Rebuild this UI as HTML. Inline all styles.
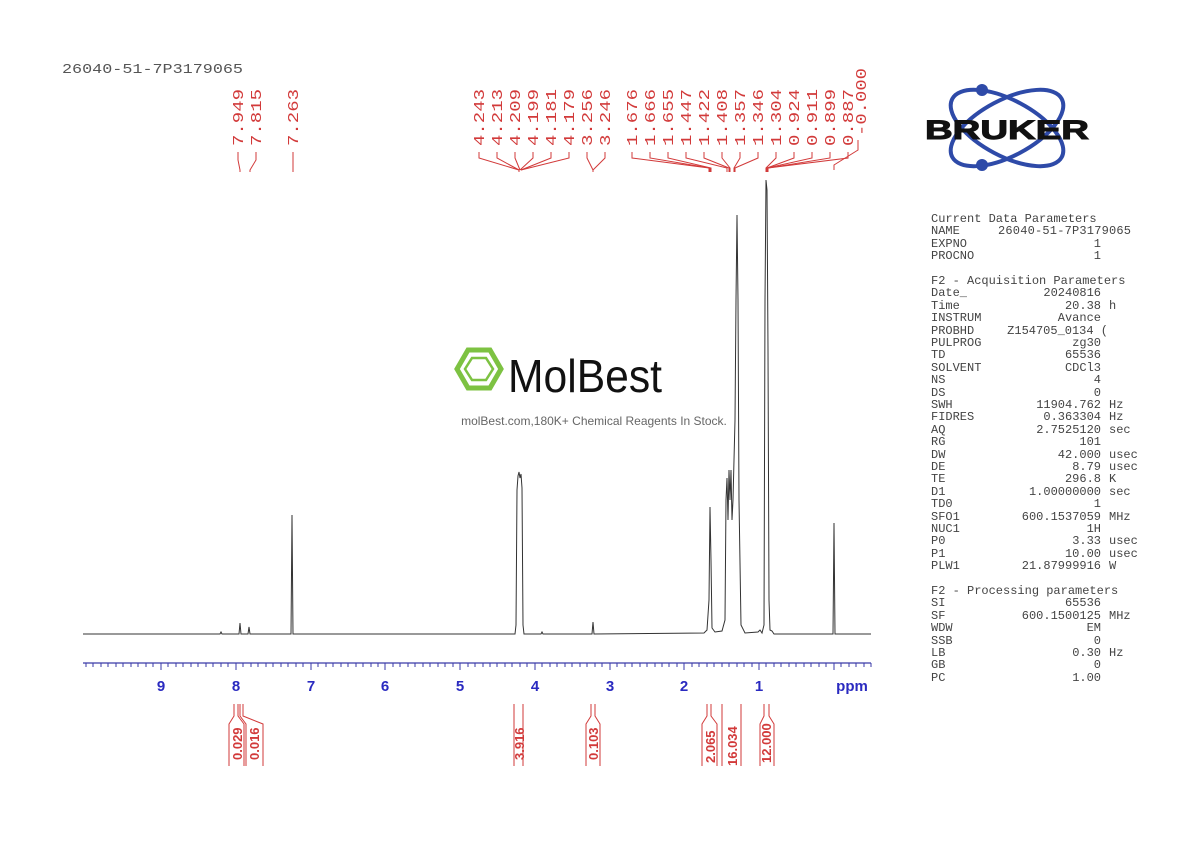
<!DOCTYPE html>
<html><head><meta charset="utf-8"><style>
body{margin:0;background:#fff}
svg{display:block}
.m{font-family:"Liberation Mono",monospace}
</style></head><body>
<svg width="1190" height="842" viewBox="0 0 1190 842" xmlns="http://www.w3.org/2000/svg">
<rect width="1190" height="842" fill="#fff"/>
<text x="62" y="73" class="m" font-size="14" fill="#555" textLength="181" lengthAdjust="spacingAndGlyphs">26040-51-7P3179065</text>

<!-- peak labels -->
<g class="m" font-size="15" fill="#d23a3a" lengthAdjust="spacingAndGlyphs">
<text transform="translate(243,146) rotate(-90)" textLength="57" lengthAdjust="spacingAndGlyphs">7.949</text>
<text transform="translate(261,146) rotate(-90)" textLength="57" lengthAdjust="spacingAndGlyphs">7.815</text>
<text transform="translate(298,146) rotate(-90)" textLength="57" lengthAdjust="spacingAndGlyphs">7.263</text>
<text transform="translate(484,146) rotate(-90)" textLength="57" lengthAdjust="spacingAndGlyphs">4.243</text>
<text transform="translate(502,146) rotate(-90)" textLength="57" lengthAdjust="spacingAndGlyphs">4.213</text>
<text transform="translate(520,146) rotate(-90)" textLength="57" lengthAdjust="spacingAndGlyphs">4.209</text>
<text transform="translate(538,146) rotate(-90)" textLength="57" lengthAdjust="spacingAndGlyphs">4.199</text>
<text transform="translate(556,146) rotate(-90)" textLength="57" lengthAdjust="spacingAndGlyphs">4.181</text>
<text transform="translate(574,146) rotate(-90)" textLength="57" lengthAdjust="spacingAndGlyphs">4.179</text>
<text transform="translate(592,146) rotate(-90)" textLength="57" lengthAdjust="spacingAndGlyphs">3.256</text>
<text transform="translate(610,146) rotate(-90)" textLength="57" lengthAdjust="spacingAndGlyphs">3.246</text>
<text transform="translate(637,146) rotate(-90)" textLength="57" lengthAdjust="spacingAndGlyphs">1.676</text>
<text transform="translate(655,146) rotate(-90)" textLength="57" lengthAdjust="spacingAndGlyphs">1.666</text>
<text transform="translate(673,146) rotate(-90)" textLength="57" lengthAdjust="spacingAndGlyphs">1.655</text>
<text transform="translate(691,146) rotate(-90)" textLength="57" lengthAdjust="spacingAndGlyphs">1.447</text>
<text transform="translate(709,146) rotate(-90)" textLength="57" lengthAdjust="spacingAndGlyphs">1.422</text>
<text transform="translate(727,146) rotate(-90)" textLength="57" lengthAdjust="spacingAndGlyphs">1.408</text>
<text transform="translate(745,146) rotate(-90)" textLength="57" lengthAdjust="spacingAndGlyphs">1.357</text>
<text transform="translate(763,146) rotate(-90)" textLength="57" lengthAdjust="spacingAndGlyphs">1.346</text>
<text transform="translate(781,146) rotate(-90)" textLength="57" lengthAdjust="spacingAndGlyphs">1.304</text>
<text transform="translate(799,146) rotate(-90)" textLength="57" lengthAdjust="spacingAndGlyphs">0.924</text>
<text transform="translate(817,146) rotate(-90)" textLength="57" lengthAdjust="spacingAndGlyphs">0.911</text>
<text transform="translate(835,146) rotate(-90)" textLength="57" lengthAdjust="spacingAndGlyphs">0.899</text>
<text transform="translate(853,146) rotate(-90)" textLength="57" lengthAdjust="spacingAndGlyphs">0.887</text>
<text transform="translate(866,136) rotate(-90)" textLength="68" lengthAdjust="spacingAndGlyphs">-0.000</text>
</g>
<g stroke="#d23a3a" stroke-width="1" fill="none">
<path d="M238,152 L238,160 L240,170 L240,172"/>
<path d="M256,152 L256,160 L250,170 L250,172"/>
<path d="M293,152 L293,172"/>
<path d="M479,152 L479,158 L519,170 L519,172"/>
<path d="M497,152 L497,158 L519,170"/>
<path d="M515,152 L515,158 L520,170"/>
<path d="M533,152 L533,158 L520,170"/>
<path d="M551,152 L551,158 L521,170"/>
<path d="M569,152 L569,158 L521,170"/>
<path d="M587,152 L587,158 L593,170 L593,172"/>
<path d="M605,152 L605,158 L593,170"/>
<path d="M632,152 L632,158 L709,168 L709,172"/>
<path d="M650,152 L650,158 L710,168 L710,172"/>
<path d="M668,152 L668,158 L711,168 L711,172"/>
<path d="M686,152 L686,158 L727,168 L727,172"/>
<path d="M704,152 L704,158 L729,168 L729,172"/>
<path d="M722,152 L722,158 L730,168 L730,172"/>
<path d="M740,152 L740,158 L734,168 L734,172"/>
<path d="M758,152 L758,158 L735,168 L735,172"/>
<path d="M776,152 L776,158 L766,168 L766,172"/>
<path d="M794,152 L794,158 L767,168 L767,172"/>
<path d="M812,152 L812,158 L767,168 L767,172"/>
<path d="M830,152 L830,158 L768,168 L768,172"/>
<path d="M848,152 L848,158 L768,168 L768,172"/>
<path d="M858,140 L858,150 L834,165 L834,170"/>
</g>

<!-- watermark -->
<g>
<polygon points="468,350 490,350 501,369 490,388 468,388 457,369" fill="none" stroke="#7dc242" stroke-width="5"/>
<polygon points="472,358 486,358 493,369 486,380 472,380 465,369" fill="none" stroke="#7dc242" stroke-width="2.5"/>
<text x="508" y="392" font-family="Liberation Sans, sans-serif" font-size="46" fill="#111" textLength="154" lengthAdjust="spacingAndGlyphs">MolBest</text>
<text x="594" y="425" text-anchor="middle" font-family="Liberation Sans, sans-serif" font-size="12" fill="#666">molBest.com,180K+ Chemical Reagents In Stock.</text>
</g>

<!-- spectrum -->
<path fill="none" stroke="#333" stroke-width="1" d="
M83,634 L220,634 L221,632 L222,634 L239,634 L240,623 L241,634 L248,634 L249,627 L250,634
L291,634 L292,515 L293,634 L515,634 L516,625 L517,490 L518,476 L519,472 L520,478 L521,474 L522,488 L523,625 L524,634
L541,634 L542,632 L543,634 L592,634 L593,622 L594,634
L704,633 L707,630 L709,600 L710,507 L711,560 L712,628 L715,632 L722,631 L725,620 L726,500 L727,478 L728,520 L729,470 L730,500 L731,470 L732,520 L733,500 L735,420 L736,300 L737,215 L738,300 L739,500 L741,625 L745,633
L758,632 L760,630 L762,633 L764,625 L765,300 L766,180 L767,190 L768,350 L769,600 L770,630 L772,631 L774,634
L833,634 L834,523 L835,634 L871,634"/>

<!-- axis -->
<line x1="83" y1="663" x2="871" y2="663" stroke="#3a3aa8" stroke-width="1.2"/>
<path stroke="#3a3aa8" stroke-width="1" d="
M86,663v4 M93,663v4 M101,663v4 M108,663v4 M116,663v4 M123,663v4 M131,663v4 M138,663v4 M146,663v4 M153,663v4 M161,663v7
M168,663v4 M176,663v4 M183,663v4 M191,663v4 M198,663v4 M206,663v4 M213,663v4 M221,663v4 M228,663v4 M236,663v7
M243,663v4 M251,663v4 M258,663v4 M266,663v4 M273,663v4 M281,663v4 M288,663v4 M296,663v4 M303,663v4 M311,663v7
M318,663v4 M326,663v4 M333,663v4 M341,663v4 M348,663v4 M356,663v4 M363,663v4 M371,663v4 M378,663v4 M385,663v7
M393,663v4 M400,663v4 M408,663v4 M415,663v4 M423,663v4 M430,663v4 M438,663v4 M445,663v4 M453,663v4 M460,663v7
M468,663v4 M475,663v4 M483,663v4 M490,663v4 M497,663v4 M505,663v4 M512,663v4 M520,663v4 M527,663v4 M535,663v7
M542,663v4 M550,663v4 M557,663v4 M565,663v4 M572,663v4 M580,663v4 M587,663v4 M595,663v4 M602,663v4 M610,663v7
M617,663v4 M625,663v4 M632,663v4 M640,663v4 M647,663v4 M655,663v4 M662,663v4 M669,663v4 M677,663v4 M684,663v7
M692,663v4 M699,663v4 M707,663v4 M714,663v4 M722,663v4 M729,663v4 M737,663v4 M744,663v4 M752,663v4 M759,663v7
M766,663v4 M774,663v4 M781,663v4 M789,663v4 M796,663v4 M804,663v4 M811,663v4 M819,663v4 M826,663v4 M834,663v7
M841,663v4 M849,663v4 M856,663v4 M864,663v4 M871,663v4"/>
<g font-family="Liberation Sans, sans-serif" font-weight="bold" font-size="15" fill="#2a2ac0" text-anchor="middle">
<text x="161" y="691">9</text><text x="236" y="691">8</text><text x="311" y="691">7</text><text x="385" y="691">6</text>
<text x="460" y="691">5</text><text x="535" y="691">4</text><text x="610" y="691">3</text><text x="684" y="691">2</text>
<text x="759" y="691">1</text><text x="852" y="691">ppm</text>
</g>

<!-- integrals -->
<g stroke="#d23a3a" stroke-width="1" fill="none">
<path d="M234,704 V716 L229,724 V766 M238,704 V716 L244,724 V766"/>
<path d="M240,704 V716 L246,724 V766 M243,704 V716 L263,724 V766"/>
<path d="M514,704 V766 M523,704 V766"/>
<path d="M591,704 V716 L586,724 V766 M595,704 V716 L600,724 V766"/>
<path d="M707,704 V716 L702,724 V766 M711,704 V716 L717,724 V766"/>
<path d="M722,704 V766 M741,704 V766"/>
<path d="M764,704 V716 L760,724 V766 M769,704 V716 L774,724 V766"/>
</g>
<g font-family="Liberation Sans, sans-serif" font-weight="bold" font-size="13" fill="#d23a3a">
<text transform="translate(242,760) rotate(-90)">0.029</text>
<text transform="translate(259,760) rotate(-90)">0.016</text>
<text transform="translate(524,760) rotate(-90)">3.916</text>
<text transform="translate(598,760) rotate(-90)">0.103</text>
<text transform="translate(715,763) rotate(-90)">2.065</text>
<text transform="translate(737,766) rotate(-90)">16.034</text>
<text transform="translate(771,763) rotate(-90)">12.000</text>
</g>

<!-- Bruker logo -->
<g fill="none" stroke="#2e4aa8" stroke-width="4">
<ellipse cx="1007" cy="128" rx="62" ry="28" transform="rotate(28 1007 128)"/>
<ellipse cx="1007" cy="128" rx="62" ry="28" transform="rotate(-28 1007 128)"/>
</g>
<circle cx="982" cy="90" r="6" fill="#2e4aa8"/>
<circle cx="982" cy="165" r="6" fill="#2e4aa8"/>
<text x="1007" y="139" text-anchor="middle" font-family="Liberation Sans, sans-serif" font-weight="bold" font-size="27" fill="#111" textLength="164" lengthAdjust="spacingAndGlyphs" stroke="#111" stroke-width="1">BRUKER</text>

<!-- params -->
<g class="m" font-size="12" fill="#444">
<text x="931" y="222">Current Data Parameters</text>
<text x="931" y="234">NAME</text><text x="998" y="234" textLength="133">26040-51-7P3179065</text>
<text x="931" y="247">EXPNO</text><text x="1101" y="247" text-anchor="end">1</text>
<text x="931" y="259">PROCNO</text><text x="1101" y="259" text-anchor="end">1</text>
<text x="931" y="284">F2 - Acquisition Parameters</text>
<text x="931" y="296">Date_</text><text x="1101" y="296" text-anchor="end">20240816</text>
<text x="931" y="309">Time</text><text x="1101" y="309" text-anchor="end">20.38</text><text x="1109" y="309">h</text>
<text x="931" y="321">INSTRUM</text><text x="1101" y="321" text-anchor="end">Avance</text>
<text x="931" y="334">PROBHD</text><text x="1108" y="334" text-anchor="end">Z154705_0134 (</text>
<text x="931" y="346">PULPROG</text><text x="1101" y="346" text-anchor="end">zg30</text>
<text x="931" y="358">TD</text><text x="1101" y="358" text-anchor="end">65536</text>
<text x="931" y="371">SOLVENT</text><text x="1101" y="371" text-anchor="end">CDCl3</text>
<text x="931" y="383">NS</text><text x="1101" y="383" text-anchor="end">4</text>
<text x="931" y="396">DS</text><text x="1101" y="396" text-anchor="end">0</text>
<text x="931" y="408">SWH</text><text x="1101" y="408" text-anchor="end">11904.762</text><text x="1109" y="408">Hz</text>
<text x="931" y="420">FIDRES</text><text x="1101" y="420" text-anchor="end">0.363304</text><text x="1109" y="420">Hz</text>
<text x="931" y="433">AQ</text><text x="1101" y="433" text-anchor="end">2.7525120</text><text x="1109" y="433">sec</text>
<text x="931" y="445">RG</text><text x="1101" y="445" text-anchor="end">101</text>
<text x="931" y="458">DW</text><text x="1101" y="458" text-anchor="end">42.000</text><text x="1109" y="458">usec</text>
<text x="931" y="470">DE</text><text x="1101" y="470" text-anchor="end">8.79</text><text x="1109" y="470">usec</text>
<text x="931" y="482">TE</text><text x="1101" y="482" text-anchor="end">296.8</text><text x="1109" y="482">K</text>
<text x="931" y="495">D1</text><text x="1101" y="495" text-anchor="end">1.00000000</text><text x="1109" y="495">sec</text>
<text x="931" y="507">TD0</text><text x="1101" y="507" text-anchor="end">1</text>
<text x="931" y="520">SFO1</text><text x="1101" y="520" text-anchor="end">600.1537059</text><text x="1109" y="520">MHz</text>
<text x="931" y="532">NUC1</text><text x="1101" y="532" text-anchor="end">1H</text>
<text x="931" y="544">P0</text><text x="1101" y="544" text-anchor="end">3.33</text><text x="1109" y="544">usec</text>
<text x="931" y="557">P1</text><text x="1101" y="557" text-anchor="end">10.00</text><text x="1109" y="557">usec</text>
<text x="931" y="569">PLW1</text><text x="1101" y="569" text-anchor="end">21.87999916</text><text x="1109" y="569">W</text>
<text x="931" y="594">F2 - Processing parameters</text>
<text x="931" y="606">SI</text><text x="1101" y="606" text-anchor="end">65536</text>
<text x="931" y="619">SF</text><text x="1101" y="619" text-anchor="end">600.1500125</text><text x="1109" y="619">MHz</text>
<text x="931" y="631">WDW</text><text x="1101" y="631" text-anchor="end">EM</text>
<text x="931" y="644">SSB</text><text x="1101" y="644" text-anchor="end">0</text>
<text x="931" y="656">LB</text><text x="1101" y="656" text-anchor="end">0.30</text><text x="1109" y="656">Hz</text>
<text x="931" y="668">GB</text><text x="1101" y="668" text-anchor="end">0</text>
<text x="931" y="681">PC</text><text x="1101" y="681" text-anchor="end">1.00</text>
</g>
</svg>
</body></html>
